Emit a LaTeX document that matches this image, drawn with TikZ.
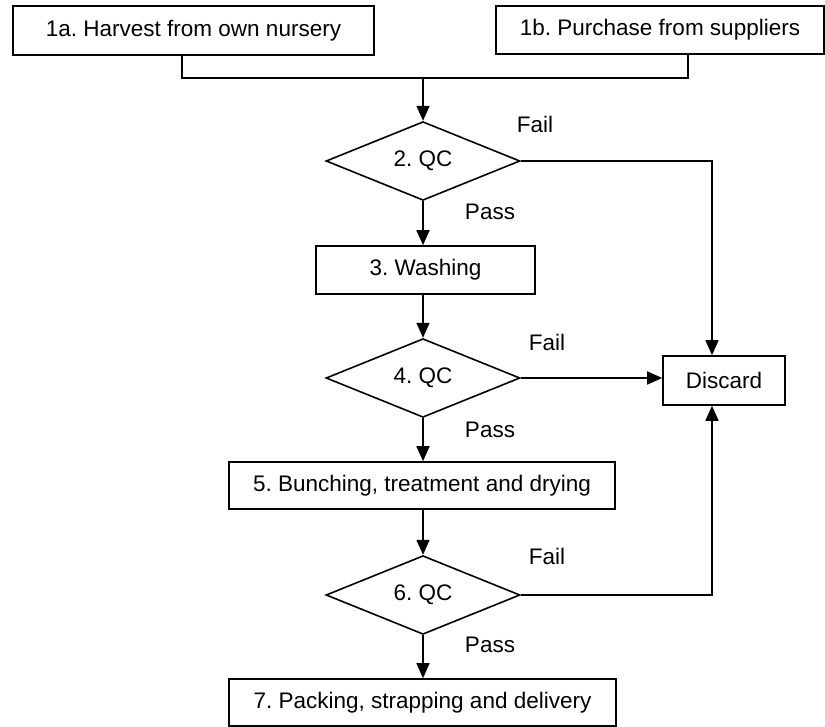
\documentclass[tikz,border=0pt]{standalone}
\usepackage{fontspec}
\setmainfont{Liberation Sans}
\frenchspacing
\usetikzlibrary{shapes.geometric,arrows.meta}
\begin{document}
\begin{tikzpicture}[x=1pt,y=-1pt,
  every node/.style={font=\fontsize{22.5}{27}\selectfont},
  stepbox/.style={draw, line width=1.6pt, rectangle, inner sep=0pt, minimum height=48pt},
  check/.style={draw, line width=1.6pt, diamond, inner sep=0pt, minimum width=194pt, minimum height=72pt},
  flow/.style={line width=1.5pt},
  arr/.style={flow, -{Triangle[length=15pt,width=13pt]}},
  lbl/.style={inner sep=0pt}]
\useasboundingbox (0,0) rectangle (825,727);

% process steps
\node[stepbox, minimum width=361pt, minimum height=49pt] (a1) at (193.5,30.5) {1a. Harvest from own nursery};
\node[stepbox, minimum width=328pt] (b1) at (660,30) {1b. Purchase from suppliers};
\node[check] (q2) at (423,161) {2. QC};
\node[stepbox, minimum width=219pt] (wash) at (425.5,270) {3. Washing};
\node[check] (q4) at (423,378) {4. QC};
\node[stepbox, minimum width=122pt, minimum height=49pt] (discard) at (724,380.5) {Discard};
\node[stepbox, minimum width=386pt, minimum height=47pt] (bunch) at (422,485.5) {5. Bunching, treatment and drying};
\node[check] (q6) at (423,595) {6. QC};
\node[stepbox, minimum width=387pt, minimum height=47pt] (pack) at (422.5,702.5) {7. Packing, strapping and delivery};

% junction points of the connectors
\coordinate (ja) at (182,78);
\coordinate (jb) at (688,78);
\coordinate (jm) at (423,78);
\coordinate (dx) at (712,0);

% merge of the two sources
\draw[flow] (a1.south -| ja) -- (ja) -- (jb) -- (b1.south -| jb);
\draw[arr] (jm) -- (q2.north);

% main line, kept on one vertical
\draw[arr] (q2.south) -- (q2.south |- wash.north);
\draw[arr] (q2.south |- wash.south) -- (q4.north);
\draw[arr] (q4.south) -- (q4.south |- bunch.north);
\draw[arr] (q4.south |- bunch.south) -- (q6.north);
\draw[arr] (q6.south) -- (q6.south |- pack.north);

% rejects
\draw[arr] (q2.east) -- (q2.east -| dx) -- (discard.north -| dx);
\draw[arr] (q4.east) -- (q4.east -| discard.west);
\draw[arr] (q6.east) -- (q6.east -| dx) -- (discard.south -| dx);

% decision labels
\node[lbl] (f2) at (535,124) {Fail};
\node[lbl] (f4) at (547,342) {Fail};
\node[lbl] (f6) at (547,556) {Fail};
\node[lbl] (p2) at (490,212) {Pass};
\node[lbl] (p4) at (490,430) {Pass};
\node[lbl] (p6) at (490,645) {Pass};
\end{tikzpicture}
\end{document}
